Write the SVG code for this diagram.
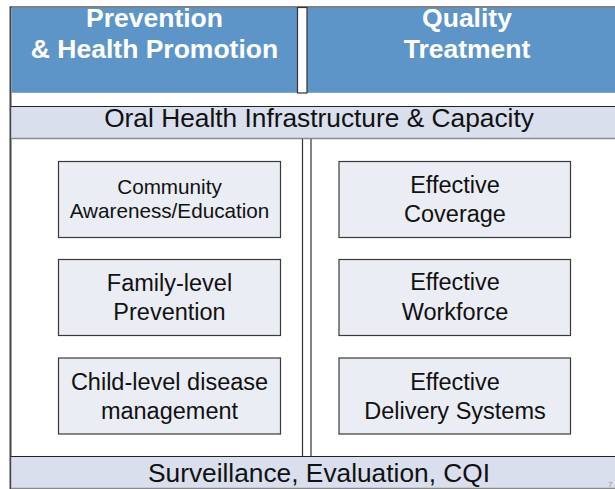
<svg xmlns="http://www.w3.org/2000/svg" width="615" height="489" viewBox="0 0 615 489">
  <style>
    .hdr { font-family: "Liberation Sans", Arial, sans-serif; font-weight: bold; font-size: 26.5px; fill: #ffffff; text-anchor: middle; }
    .band { fill: #d9dfec; }
    .bandtxt { font-family: "Liberation Sans", Arial, sans-serif; font-size: 26.3px; fill: #111111; text-anchor: middle; }
    .box { fill: #eaedf3; stroke: #3a3a3a; stroke-width: 1.2; }
    .boxtxt { font-family: "Liberation Sans", Arial, sans-serif; font-size: 23.5px; fill: #111111; text-anchor: middle; }
    .small { font-size: 20.7px; }
    .div { stroke: #333333; stroke-width: 1.2; fill: none; }
  </style>
  <rect x="0" y="0" width="615" height="489" fill="#ffffff"/>

  <g id="frame">
    <line x1="10" y1="7" x2="615" y2="7" stroke="#555555" stroke-width="1.5"/>
    <line x1="10.5" y1="6.5" x2="10.5" y2="489" stroke="#444444" stroke-width="2"/>
  </g>

  <g id="header-prevention">
    <rect x="11.5" y="7.8" width="286" height="85" fill="#5e95c8"/>
    <text class="hdr" x="154.5" y="27">Prevention</text>
    <text class="hdr" x="154.5" y="58">&amp; Health Promotion</text>
  </g>
  <g id="header-treatment">
    <rect x="307" y="7.8" width="308" height="85" fill="#5e95c8"/>
    <text class="hdr" x="467" y="27">Quality</text>
    <text class="hdr" x="467" y="58">Treatment</text>
  </g>
  <g id="header-separator">
    <rect x="297.5" y="7.5" width="9.5" height="85.5" fill="#ffffff" stroke="#333333" stroke-width="1.2"/>
  </g>

  <g id="band-infrastructure">
    <rect class="band" x="11.5" y="106.5" width="604" height="32"/>
    <line x1="11" y1="106.5" x2="615" y2="106.5" stroke="#222222" stroke-width="1.2"/>
    <line x1="11" y1="138.5" x2="615" y2="138.5" stroke="#8a8a8a" stroke-width="1.5"/>
    <text class="bandtxt" x="319" y="127">Oral Health Infrastructure &amp; Capacity</text>
  </g>

  <g id="connectors">
    <line class="div" x1="302.5" y1="139" x2="302.5" y2="456"/>
    <line class="div" x1="311" y1="139" x2="311" y2="456"/>
  </g>

  <g id="node-community">
    <rect class="box" x="58.5" y="161.5" width="222" height="76"/>
    <text class="boxtxt small" x="169.5" y="194">Community</text>
    <text class="boxtxt small" x="169.5" y="218">Awareness/Education</text>
  </g>
  <g id="node-family">
    <rect class="box" x="58.5" y="259.5" width="222" height="76"/>
    <text class="boxtxt" x="169.5" y="291">Family-level</text>
    <text class="boxtxt" x="169.5" y="320">Prevention</text>
  </g>
  <g id="node-child">
    <rect class="box" x="58.5" y="358" width="222" height="76"/>
    <text class="boxtxt" x="169.5" y="390">Child-level disease</text>
    <text class="boxtxt" x="169.5" y="419">management</text>
  </g>
  <g id="node-coverage">
    <rect class="box" x="339" y="161.5" width="231.5" height="76"/>
    <text class="boxtxt" x="455" y="193">Effective</text>
    <text class="boxtxt" x="455" y="222">Coverage</text>
  </g>
  <g id="node-workforce">
    <rect class="box" x="339" y="259.5" width="231.5" height="76"/>
    <text class="boxtxt" x="455" y="290">Effective</text>
    <text class="boxtxt" x="455" y="320">Workforce</text>
  </g>
  <g id="node-delivery">
    <rect class="box" x="339" y="358" width="231.5" height="76"/>
    <text class="boxtxt" x="455" y="390">Effective</text>
    <text class="boxtxt" x="455" y="419">Delivery Systems</text>
  </g>

  <g id="band-surveillance">
    <rect class="band" x="11.5" y="456.5" width="604" height="32"/>
    <line x1="11" y1="456.5" x2="615" y2="456.5" stroke="#222222" stroke-width="1.2"/>
    <line x1="11" y1="488.5" x2="615" y2="488.5" stroke="#8a8a8a" stroke-width="1.5"/>
    <text class="bandtxt" x="319" y="482">Surveillance, Evaluation, CQI</text>
  </g>

  <g id="page-number">
    <text x="608" y="487" font-family="Liberation Sans, Arial, sans-serif" font-size="8" fill="#9a9a9a">7</text>
  </g>
</svg>
